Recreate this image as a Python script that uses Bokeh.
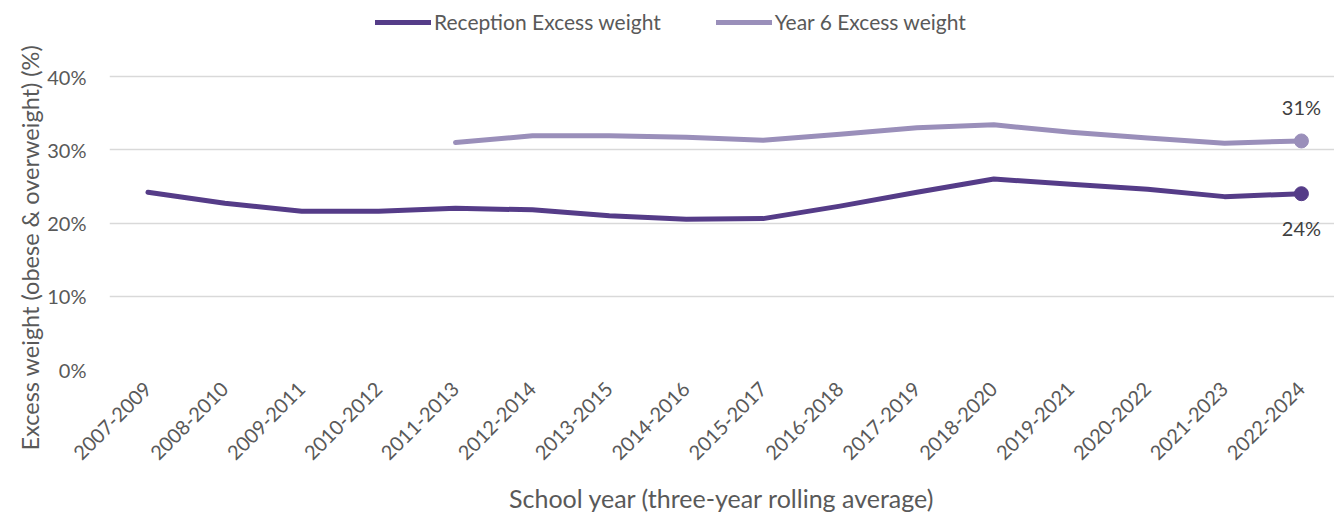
from math import pi

from bokeh.core.properties import value
from bokeh.embed import file_html
from bokeh.models import ColumnDataSource, FixedTicker, Legend, LegendItem, Title
from bokeh.plotting import figure
from bokeh.resources import INLINE

# School years (three-year rolling averages)
school_years = [
    "2007-2009", "2008-2010", "2009-2011", "2010-2012", "2011-2013",
    "2012-2014", "2013-2015", "2014-2016", "2015-2017", "2016-2018",
    "2017-2019", "2018-2020", "2019-2021", "2020-2022", "2021-2023",
    "2022-2024",
]

# Excess weight (obese & overweight), percent
reception_excess = [
    24.2, 22.7, 21.6, 21.6, 22.0, 21.8, 21.0, 20.5,
    20.6, 22.3, 24.2, 26.0, 25.3, 24.6, 23.6, 24.0,
]
# Year 6 series starts at 2011-2013
year6_years = school_years[4:]
year6_excess = [
    31.0, 31.9, 31.9, 31.7, 31.3, 32.1, 33.0, 33.4,
    32.4, 31.6, 30.9, 31.2,
]

y_ticks = [0, 10, 20, 30, 40]

FONT = "Lato"
TEXT = "#595959"
RECEPTION_COLOR = "#553c88"
YEAR6_COLOR = "#9a8fba"

x_rec = list(range(len(school_years)))
x_y6 = [school_years.index(s) for s in year6_years]

# The frame runs to the top of the canvas so the legend can sit inside it;
# the 0-40% gridlines keep the plotting area at 76-369 px.
PLOT_H = 369
PX_PER_UNIT = (369 - 76) / 40

p = figure(
    width=1334, height=517,
    x_range=(-0.5, len(school_years) - 1 + 0.43),
    y_range=(0, PLOT_H / PX_PER_UNIT),
    output_backend="svg", toolbar_location=None,
    min_border_left=109, min_border_right=0,
    min_border_top=0, min_border_bottom=148,
)
p.outline_line_color = None
p.background_fill_color = "white"

rec_src = ColumnDataSource(dict(x=x_rec, y=reception_excess))
y6_src = ColumnDataSource(dict(x=x_y6, y=year6_excess))

r_rec = p.line("x", "y", source=rec_src, line_color=RECEPTION_COLOR,
               line_width=5, line_cap="round", line_join="round")
r_y6 = p.line("x", "y", source=y6_src, line_color=YEAR6_COLOR,
              line_width=5, line_cap="round", line_join="round")

# Markers and value labels on the latest year
last_rec = ColumnDataSource(dict(x=[x_rec[-1]], y=[reception_excess[-1]],
                                 t=[f"{round(reception_excess[-1])}%"]))
last_y6 = ColumnDataSource(dict(x=[x_y6[-1]], y=[year6_excess[-1]],
                                t=[f"{round(year6_excess[-1])}%"]))
p.scatter("x", "y", source=last_rec, size=14, color=RECEPTION_COLOR)
p.scatter("x", "y", source=last_y6, size=14, color=YEAR6_COLOR)
p.text("x", "y", text="t", source=last_y6, y_offset=-22,
       text_align="center", text_baseline="bottom",
       text_font=value(FONT), text_font_size="20px", text_color="#404040")
p.text("x", "y", text="t", source=last_rec, y_offset=22,
       text_align="center", text_baseline="top",
       text_font=value(FONT), text_font_size="20px", text_color="#404040")

# Axes
p.xaxis.ticker = FixedTicker(ticks=x_rec)
p.xaxis.major_label_overrides = {i: s for i, s in enumerate(school_years)}
p.xaxis.major_label_orientation = pi / 4
p.yaxis.ticker = FixedTicker(ticks=y_ticks)
p.yaxis.major_label_overrides = {t: f"{t}%" for t in y_ticks}

for ax in (p.xaxis, p.yaxis):
    ax.axis_line_color = None
    ax.major_tick_line_color = None
    ax.minor_tick_line_color = None
    ax.major_label_text_font = FONT
    ax.major_label_text_font_size = "20px"
    ax.major_label_text_color = TEXT
    ax.axis_label_text_font = FONT
    ax.axis_label_text_font_size = "25px"
    ax.axis_label_text_font_style = "normal"
    ax.axis_label_text_color = TEXT

p.xaxis.axis_label = "School year (three-year rolling average)"
p.xaxis.major_label_standoff = 10
p.xaxis.axis_label_standoff = 14
p.yaxis.major_label_standoff = 17

# Vertical axis title, anchored near the bottom of the plotting area
y_title = Title(
    text="Excess weight (obese & overweight) (%)",
    align="left", vertical_align="middle", offset=-81,
    text_font=FONT, text_font_size="23.5px", text_font_style="normal",
    text_color=TEXT, standoff=0,
)
p.add_layout(y_title, "left")

p.xgrid.grid_line_color = None
p.ygrid.grid_line_color = "#d9d9d9"
p.ygrid.grid_line_width = 1.5

legend = Legend(
    items=[
        LegendItem(label="Reception Excess weight", renderers=[r_rec]),
        LegendItem(label="Year 6 Excess weight", renderers=[r_y6]),
    ],
    orientation="horizontal",
    location=(266, 335),
    border_line_color=None,
    background_fill_alpha=0,
    label_text_font=FONT,
    label_text_font_size="21px",
    label_text_color=TEXT,
    glyph_width=56,
    glyph_height=20,
    label_standoff=3,
    spacing=55,
    padding=0,
    margin=0,
)
p.add_layout(legend, "center")

open("out.html", "w").write(file_html(p, INLINE))
